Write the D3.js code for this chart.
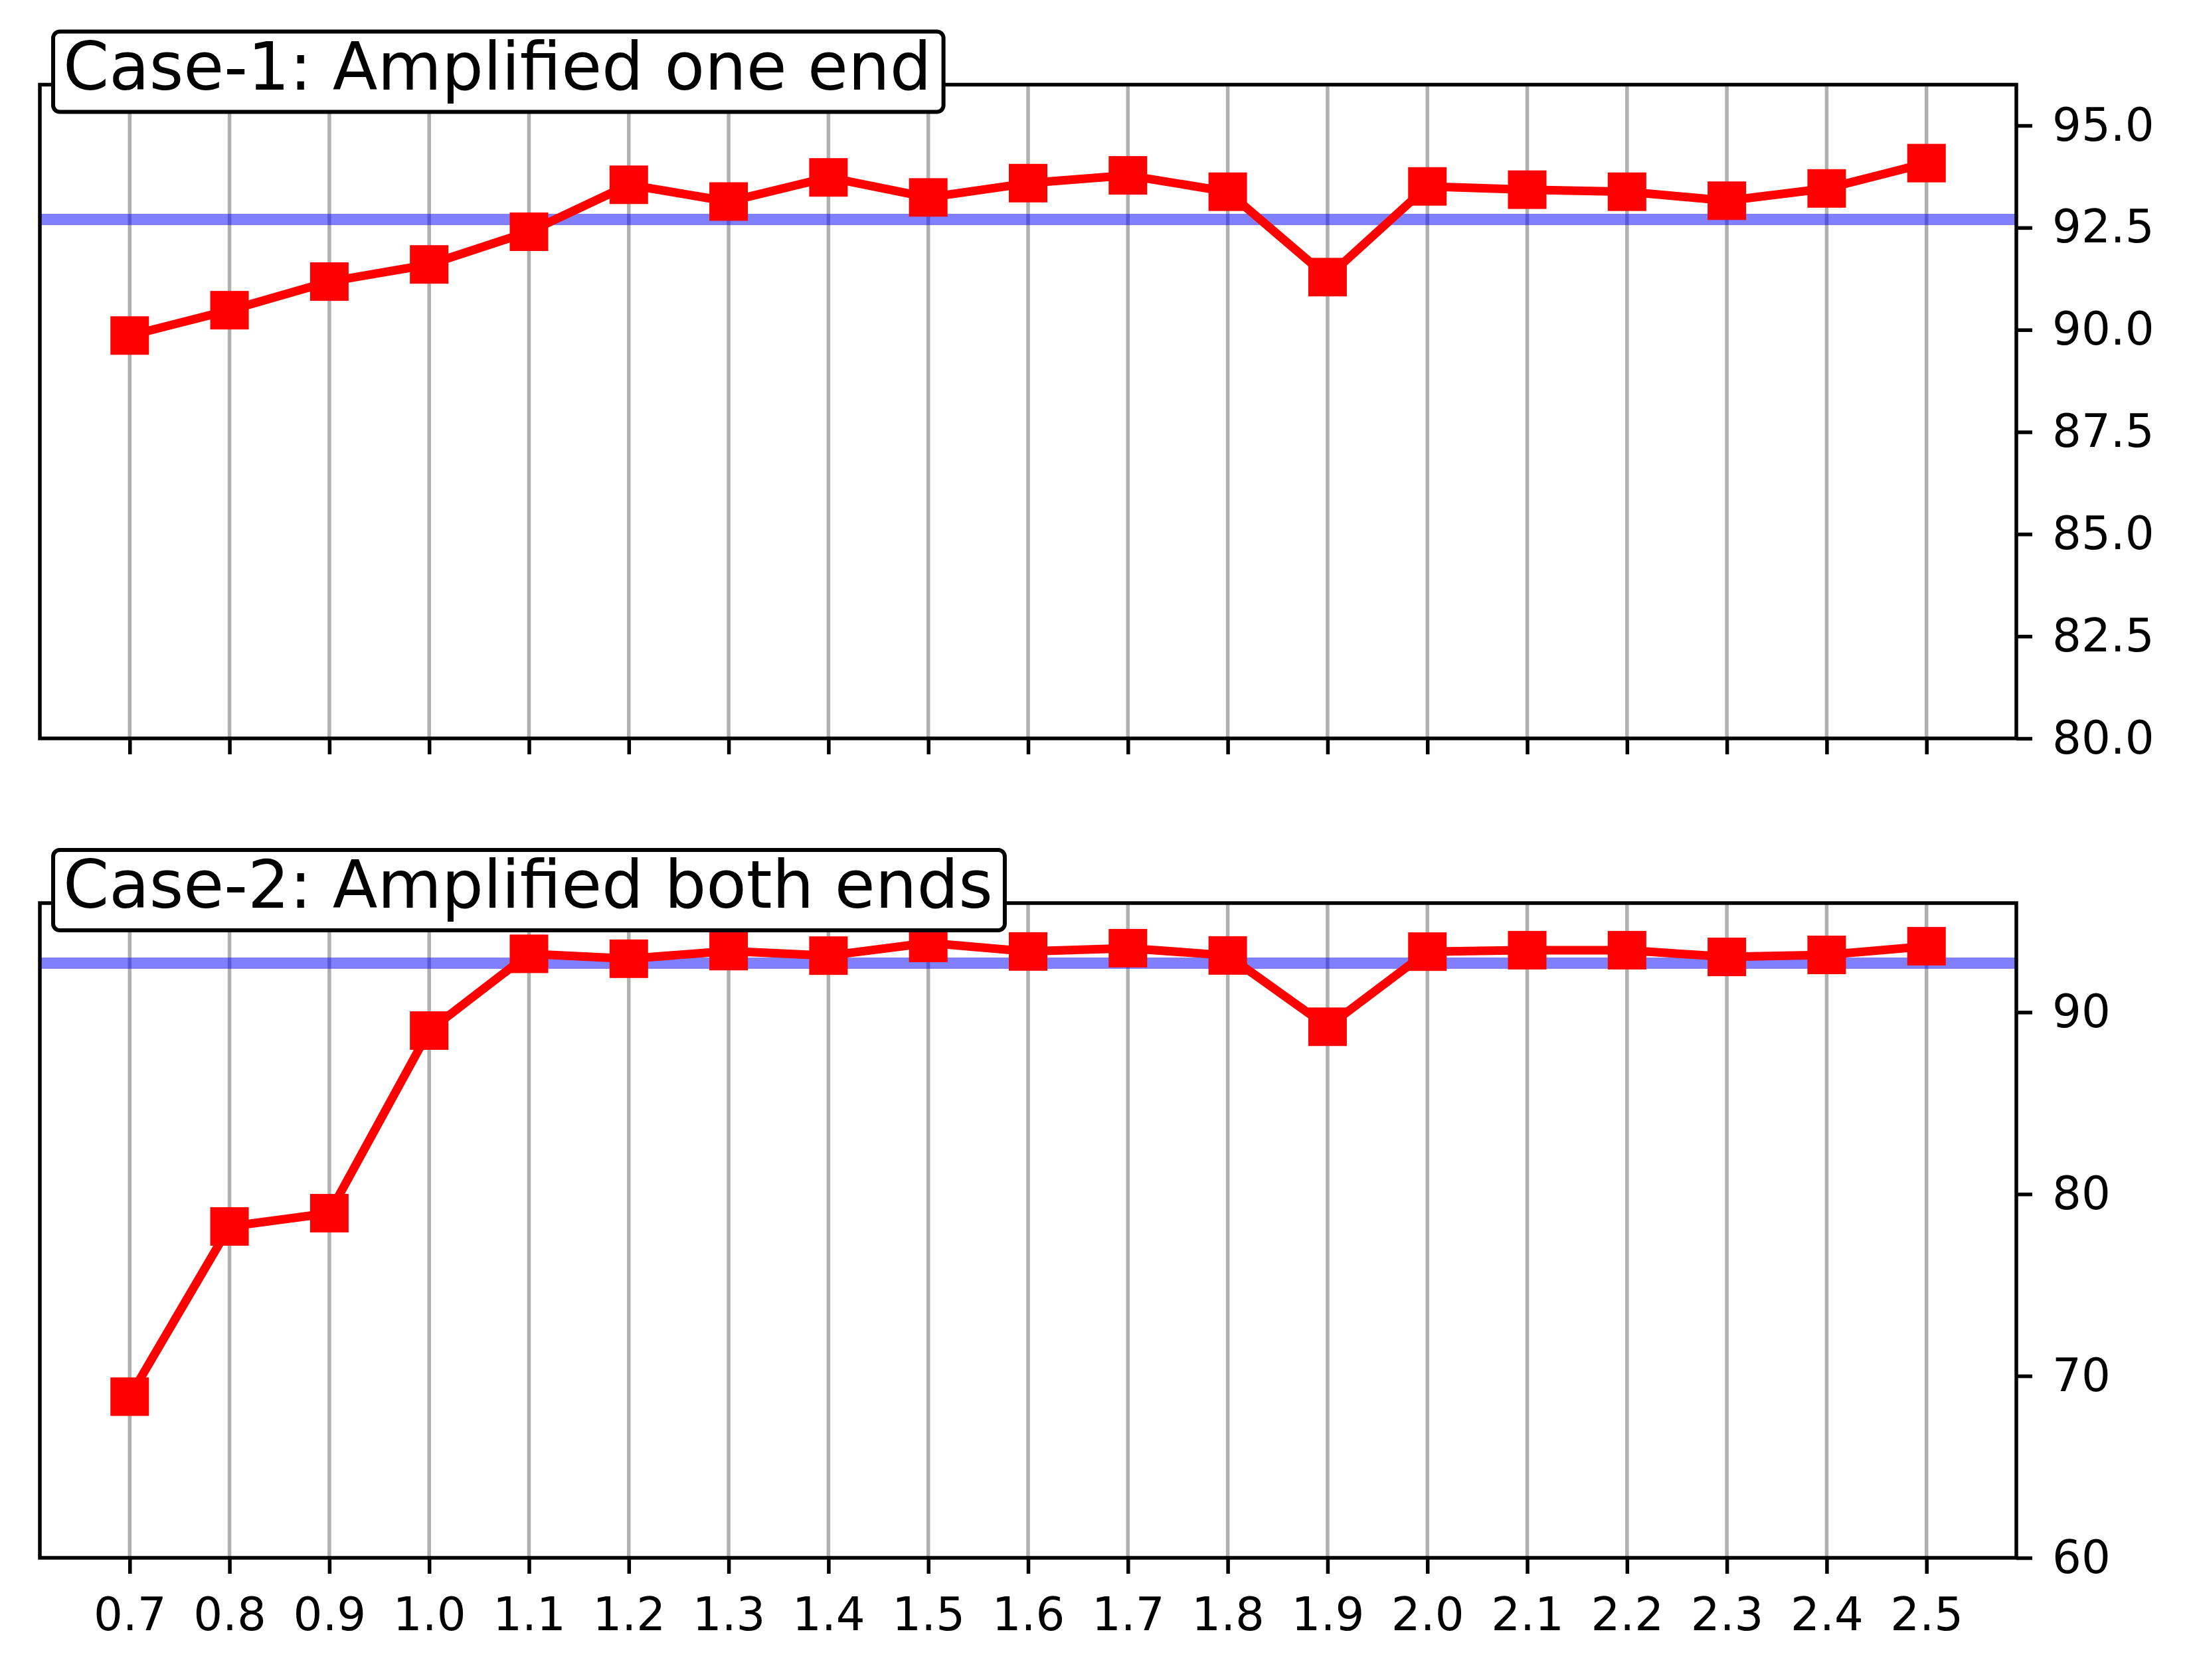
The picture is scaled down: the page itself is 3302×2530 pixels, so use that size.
<!DOCTYPE html>
<html>
<head>
<meta charset="utf-8">
<script src="https://cdn.jsdelivr.net/npm/d3@7"></script>
<style>
  body { margin: 0; background: #fff; }
  text { font-family: "DejaVu Sans", sans-serif; fill: #000; }
</style>
</head>
<body>
<div id="chart"></div>
<script>
// data
var xValues = [0.7, 0.8, 0.9, 1.0, 1.1, 1.2, 1.3, 1.4, 1.5, 1.6, 1.7, 1.8, 1.9, 2.0, 2.1, 2.2, 2.3, 2.4, 2.5];
var case1 = [89.86, 90.48, 91.18, 91.60, 92.40, 93.55, 93.14, 93.73, 93.24, 93.59, 93.78, 93.38, 91.29, 93.51, 93.43, 93.38, 93.16, 93.46, 94.08];
var case2 = [68.86, 78.22, 78.95, 88.99, 93.21, 92.94, 93.36, 93.11, 93.81, 93.34, 93.52, 93.12, 89.20, 93.33, 93.41, 93.41, 93.04, 93.15, 93.63];
var baseline = 92.7;
var titles = ["Case-1: Amplified one end", "Case-2: Amplified both ends"];
var yDomains = [[80, 96], [60, 96]];
var yTicks1 = [80, 82.5, 85, 87.5, 90, 92.5, 95];
var yTicks2 = [60, 70, 80, 90];

var W = 3302, H = 2530;
var left = 60, right = 3036;
var panels = [
  {top: 127.5, bottom: 1112, data: case1, domain: yDomains[0], ticks: yTicks1, fmt: d3.format(".1f"), title: titles[0], labels: false},
  {top: 1360, bottom: 2346, data: case2, domain: yDomains[1], ticks: yTicks2, fmt: d3.format("d"), title: titles[1], labels: true}
];

var svg = d3.select("#chart").append("svg")
    .attr("width", W)
    .attr("height", H);

var x = d3.scaleLinear()
    .domain([0.61, 2.59])
    .range([left, right]);

panels.forEach(function(p) {
  var y = d3.scaleLinear().domain(p.domain).range([p.bottom, p.top]);
  var g = svg.append("g");

  // vertical grid
  g.append("g").selectAll("line")
    .data(xValues).enter().append("line")
    .attr("x1", function(d) { return x(d); })
    .attr("x2", function(d) { return x(d); })
    .attr("y1", p.top).attr("y2", p.bottom)
    .attr("stroke", "#b0b0b0").attr("stroke-width", 5.5);

  // reference line
  g.append("line")
    .attr("x1", left).attr("x2", right)
    .attr("y1", y(baseline)).attr("y2", y(baseline))
    .attr("stroke", "blue").attr("stroke-opacity", 0.5).attr("stroke-width", 17);

  var line = d3.line()
    .x(function(d, i) { return x(xValues[i]); })
    .y(function(d) { return y(d); });

  g.append("path")
    .datum(p.data)
    .attr("d", line)
    .attr("fill", "none")
    .attr("stroke", "red")
    .attr("stroke-width", 13)
    .attr("stroke-linejoin", "round");

  var ms = 58;
  g.append("g").selectAll("rect")
    .data(p.data).enter().append("rect")
    .attr("x", function(d, i) { return x(xValues[i]) - ms / 2; })
    .attr("y", function(d) { return y(d) - ms / 2; })
    .attr("width", ms).attr("height", ms)
    .attr("fill", "red");

  // axes
  var xAxis = d3.axisBottom(x)
    .tickValues(xValues)
    .tickFormat(p.labels ? d3.format(".1f") : "")
    .tickSize(24).tickSizeOuter(0).tickPadding(36);
  var xg = g.append("g")
    .attr("transform", "translate(0," + p.bottom + ")")
    .call(xAxis);
  xg.select(".domain").remove();
  xg.selectAll("line").attr("stroke", "#000").attr("stroke-width", 5.5);
  xg.selectAll("text").style("font-size", "69px").attr("fill", "#000");

  var yAxis = d3.axisRight(y)
    .tickValues(p.ticks)
    .tickFormat(p.fmt)
    .tickSize(24).tickSizeOuter(0).tickPadding(30);
  var yg = g.append("g")
    .attr("transform", "translate(" + right + ",0)")
    .call(yAxis);
  yg.select(".domain").remove();
  yg.selectAll("line").attr("stroke", "#000").attr("stroke-width", 5.5);
  yg.selectAll("text").style("font-size", "69px").attr("fill", "#000");

  // spines
  g.append("rect")
    .attr("x", left).attr("y", p.top)
    .attr("width", right - left).attr("height", p.bottom - p.top)
    .attr("fill", "none").attr("stroke", "#000").attr("stroke-width", 5.5);

  // title box
  var tg = g.append("g");
  var box = tg.append("rect");
  var t = tg.append("text")
    .attr("x", 95).attr("y", p.top + 7)
    .style("font-size", "99px")
    .text(p.title);
  var tw = t.node().getComputedTextLength();
  box.attr("x", 80).attr("y", p.top - 80)
    .attr("width", tw + 33).attr("height", 121)
    .attr("rx", 10).attr("ry", 10)
    .attr("fill", "#fff").attr("stroke", "#000").attr("stroke-width", 6);
});
</script>
</body>
</html>
